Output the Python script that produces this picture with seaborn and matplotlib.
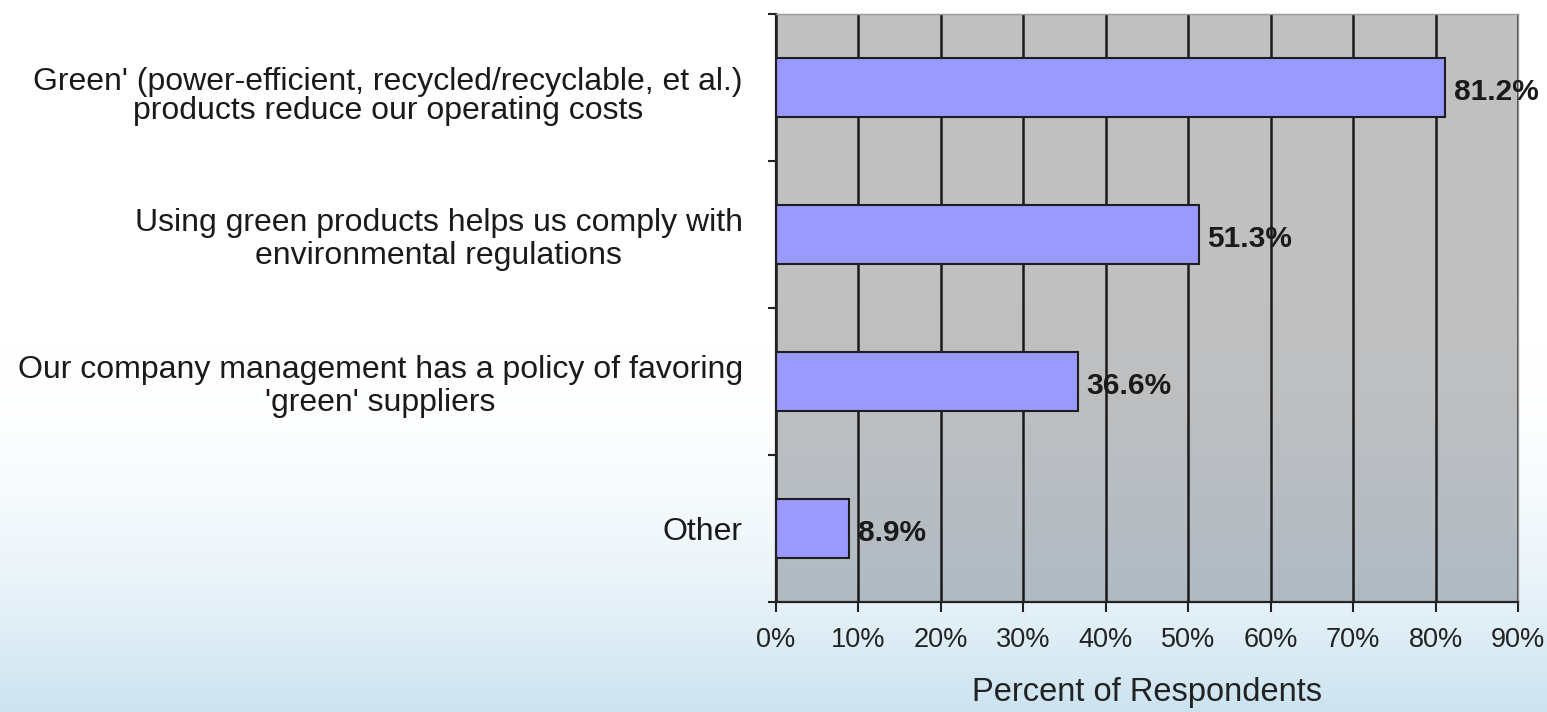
import numpy as np
import pandas as pd
import matplotlib
matplotlib.use("Agg")
import matplotlib.pyplot as plt
import matplotlib.transforms as mtransforms
import seaborn as sns

categories = [
    "Green' (power-efficient, recycled/recyclable, et al.)\nproducts reduce our operating costs",
    "Using green products helps us comply with\nenvironmental regulations",
    "Our company management has a policy of favoring\n'green' suppliers",
    "Other",
]
values = [81.2, 51.3, 36.6, 8.9]
value_labels = ["81.2%", "51.3%", "36.6%", "8.9%"]
x_ticks = [0, 10, 20, 30, 40, 50, 60, 70, 80, 90]
x_tick_labels = ["0%", "10%", "20%", "30%", "40%", "50%", "60%", "70%", "80%", "90%"]
x_label = "Percent of Respondents"

sns.set_theme(style="white")
plt.rcParams['font.family'] = ['Liberation Sans', 'DejaVu Sans']

W, H = 1547, 712
fig = plt.figure(figsize=(W / 100, H / 100), dpi=100)
fig.patch.set_facecolor("white")

# figure background gradient
bg = fig.add_axes([0, 0, 1, 1], zorder=-10)
yy = np.arange(H)
t = np.clip((yy - 340) / (H - 340), 0, 1) ** 2
top_c = np.array([255, 255, 255]) / 255
bot_c = np.array([203, 227, 240]) / 255
grad = (top_c[None, :] * (1 - t[:, None]) + bot_c[None, :] * t[:, None])
grad = np.repeat(grad[:, None, :], 2, axis=1)
bg.imshow(grad, aspect="auto", extent=[0, 1, 0, 1], origin="upper")
bg.set_axis_off()

ax_top, ax_bot, ax_l, ax_r = 14, 602, 776, 1518
ax = fig.add_axes([ax_l / W, (H - ax_bot) / H, (ax_r - ax_l) / W, (ax_bot - ax_top) / H], zorder=1)

df = pd.DataFrame({"cat": categories, "val": values})
sns.barplot(data=df, x="val", y="cat", orient="h", color="#9999FF", saturation=1,
            edgecolor="#1e1e1e", linewidth=1.5, width=0.4, ax=ax, zorder=2)

# plot-area gradient
ah = ax_bot - ax_top
ya = np.arange(ah) + ax_top
ta = np.clip((ya - 300) / (ax_bot - 300), 0, 1) ** 1.5
c0 = np.array([192, 192, 192]) / 255
c1 = np.array([176, 186, 196]) / 255
ag = c0[None, :] * (1 - ta[:, None]) + c1[None, :] * ta[:, None]
ag = np.repeat(ag[:, None, :], 2, axis=1)
ax.imshow(ag, aspect="auto", extent=[0, 1, 0, 1], transform=ax.transAxes, zorder=0, origin="upper")

ax.set_xlim(0, 90)
ax.set_ylim(3.5, -0.5)

# grid
ax.set_xticks(x_ticks)
ax.set_xticklabels(x_tick_labels, fontsize=19.5, color="#222222")
ax.grid(axis="x", color="#1a1a1a", linewidth=1.8, zorder=0.5)
ax.grid(axis="y", visible=False)
ax.set_axisbelow(True)

# y ticks: boundaries as major ticks, labels at centres as minor
ax.set_yticks([-0.5, 0.5, 1.5, 2.5, 3.5])
ax.set_yticklabels([])
ax.set_yticks(range(len(categories)), minor=True)
ax.set_yticklabels(categories, minor=True, fontsize=23, color="#1a1a1a",
                   multialignment="center", linespacing=1.15)
ax.tick_params(axis="y", which="minor", length=0, pad=24)
ax.tick_params(axis="y", which="major", direction="out", length=6, width=1.5, color="#222222", left=True)
ax.tick_params(axis="x", which="major", direction="out", length=7, width=1.5, color="#222222", bottom=True, pad=11)
ax.set_ylabel("")
ax.set_xlabel(x_label, fontsize=23.5, color="#222222", labelpad=17)

# first label sits a little lower with tighter lines
first = ax.get_yticklabels(minor=True)[0]
first.set_linespacing(0.95)
first.set_transform(first.get_transform() +
                    mtransforms.ScaledTranslation(0, -6 / 100, fig.dpi_scale_trans))

for s in ["left", "bottom"]:
    ax.spines[s].set_color("#222222")
    ax.spines[s].set_linewidth(1.6)
for s in ["top", "right"]:
    ax.spines[s].set_color("#999999")
    ax.spines[s].set_linewidth(1.0)

for i, (v, lab) in enumerate(zip(values, value_labels)):
    ax.annotate(lab, xy=(v, i), xytext=(6, -3), textcoords="offset points",
                ha="left", va="center", fontsize=21.5, fontweight="bold", color="#1a1a1a",
                annotation_clip=False, zorder=5)

fig.savefig("out.png", dpi=100, facecolor=fig.get_facecolor())
